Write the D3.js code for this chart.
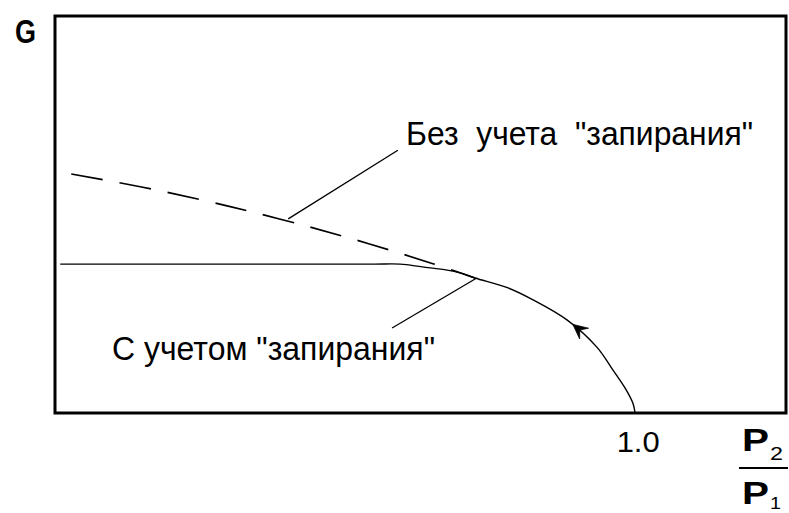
<!DOCTYPE html>
<html>
<head>
<meta charset="utf-8">
<script src="https://cdn.jsdelivr.net/npm/d3@7"></script>
<style>
  html, body { margin: 0; padding: 0; background: #fff; }
  svg { display: block; }
  text { font-family: "Liberation Sans", Arial, sans-serif; fill: #000; white-space: pre; }
</style>
</head>
<body>
<script>
// Flow rate G versus pressure ratio P2/P1
const ratioWithChoking = [0.009, 0.25, 0.45, 0.55, 0.595, 0.633, 0.676, 0.698, 0.724, 0.781, 0.824, 0.883, 0.934, 0.960, 0.983, 0.996, 1.0];
const flowWithChoking  = [0.375, 0.375, 0.375, 0.375, 0.375, 0.368, 0.360, 0.353, 0.340, 0.315, 0.285, 0.234, 0.166, 0.112, 0.062, 0.025, 0.0];

const ratioNoChoking = [0.028, 0.147, 0.252, 0.338, 0.438, 0.521, 0.600, 0.664, 0.724];
const flowNoChoking  = [0.602, 0.570, 0.537, 0.507, 0.469, 0.435, 0.400, 0.370, 0.340];

const xTickValues = [1.0];
const xTickLabels = ["1.0"];

const labelNoChoking   = "Без  учета  \"запирания\"";
const labelWithChoking = "С учетом \"запирания\"";

// leader lines: [ratio, flow] of each end
const leaderNoChoking   = [[0.402, 0.489], [0.591, 0.662]];
const leaderWithChoking = [[0.581, 0.214], [0.727, 0.340]];

const arrowRatio = 0.893;

const W = 789, H = 513;
const svg = d3.select("body").append("svg").attr("width", W).attr("height", H);

const x = d3.scaleLinear().domain([0, 1.26]).range([55, 786]);
const y = d3.scaleLinear().domain([0, 1]).range([413, 16]);

// frame
svg.append("rect")
  .attr("x", x(0)).attr("y", y(1))
  .attr("width", x(1.26) - x(0)).attr("height", y(0) - y(1))
  .attr("fill", "none").attr("stroke", "#000").attr("stroke-width", 3);

// x axis with the single tick label
const xAxis = d3.axisBottom(x).tickValues(xTickValues).tickSize(0).tickPadding(18)
  .tickFormat((d, i) => xTickLabels[i]);
const gx = svg.append("g").attr("transform", `translate(0,${y(0)})`).call(xAxis);
gx.select(".domain").remove();
gx.selectAll("text")
  .attr("font-family", "\"Liberation Sans\", Arial, sans-serif")
  .attr("font-size", 29)
  .attr("text-anchor", "start")
  .attr("x", -19)
  .attr("textLength", 43)
  .attr("lengthAdjust", "spacingAndGlyphs");

const line = d3.line().x(d => x(d[0])).y(d => y(d[1])).curve(d3.curveCatmullRom.alpha(0.5));

const withPts = ratioWithChoking.map((r, i) => [r, flowWithChoking[i]]);
const noPts = ratioNoChoking.map((r, i) => [r, flowNoChoking[i]]);

// without choking: dashed extension of the curve
svg.append("path").attr("d", line(noPts))
  .attr("fill", "none").attr("stroke", "#000").attr("stroke-width", 1.6)
  .attr("stroke-dasharray", "32,17");

// with choking: solid curve
const mainPath = svg.append("path").attr("d", line(withPts))
  .attr("fill", "none").attr("stroke", "#000").attr("stroke-width", 1.4);

// leader lines
[leaderNoChoking, leaderWithChoking].forEach(l => {
  svg.append("line")
    .attr("x1", x(l[0][0])).attr("y1", y(l[0][1]))
    .attr("x2", x(l[1][0])).attr("y2", y(l[1][1]))
    .attr("stroke", "#000").attr("stroke-width", 1.3);
});

// arrow along the curve, pointing toward decreasing ratio
const node = mainPath.node();
const total = node.getTotalLength();
const target = x(arrowRatio);
let best = 0, bestD = Infinity;
for (let s = 0; s <= total; s += 0.5) {
  const p = node.getPointAtLength(s);
  const d = Math.abs(p.x - target);
  if (d < bestD) { bestD = d; best = s; }
}
const tip = node.getPointAtLength(best);
const back = node.getPointAtLength(Math.min(total, best + 4));
let ux = tip.x - back.x, uy = tip.y - back.y;
const n = Math.hypot(ux, uy); ux /= n; uy /= n;
const len = 16, half = 0.45;
const rot = (vx, vy, a) => [vx * Math.cos(a) - vy * Math.sin(a), vx * Math.sin(a) + vy * Math.cos(a)];
const b1 = rot(-ux, -uy, half), b2 = rot(-ux, -uy, -half);
const inner = [tip.x - ux * len * 0.55, tip.y - uy * len * 0.55];
svg.append("path")
  .attr("d", `M${tip.x},${tip.y}L${tip.x + b1[0] * len},${tip.y + b1[1] * len}L${inner[0]},${inner[1]}L${tip.x + b2[0] * len},${tip.y + b2[1] * len}Z`)
  .attr("fill", "#000").attr("stroke", "#000").attr("stroke-width", 0.8).attr("stroke-linejoin", "miter");

// annotation labels
svg.append("text").attr("x", 406).attr("y", 145)
  .attr("font-size", 33).attr("textLength", 347).attr("lengthAdjust", "spacingAndGlyphs")
  .text(labelNoChoking);
svg.append("text").attr("x", 112).attr("y", 360)
  .attr("font-size", 33).attr("textLength", 323).attr("lengthAdjust", "spacingAndGlyphs")
  .text(labelWithChoking);

// axis titles
svg.append("text").attr("x", 15).attr("y", 43)
  .attr("font-size", 33).attr("font-weight", "bold").attr("textLength", 21).attr("lengthAdjust", "spacingAndGlyphs")
  .text("G");

const frac = svg.append("g");
frac.append("text").attr("x", 742).attr("y", 451)
  .attr("font-size", 31).attr("font-weight", "bold")
  .attr("textLength", 27).attr("lengthAdjust", "spacingAndGlyphs").text("P");
frac.append("text").attr("x", 770).attr("y", 460)
  .attr("font-size", 19).attr("textLength", 13).attr("lengthAdjust", "spacingAndGlyphs").text("2");
frac.append("line").attr("x1", 739).attr("x2", 788).attr("y1", 468).attr("y2", 468)
  .attr("stroke", "#000").attr("stroke-width", 2);
frac.append("text").attr("x", 742).attr("y", 504)
  .attr("font-size", 31).attr("font-weight", "bold")
  .attr("textLength", 27).attr("lengthAdjust", "spacingAndGlyphs").text("P");
frac.append("text").attr("x", 770).attr("y", 509)
  .attr("font-size", 17).attr("textLength", 11).attr("lengthAdjust", "spacingAndGlyphs").text("1");
</script>
</body>
</html>
